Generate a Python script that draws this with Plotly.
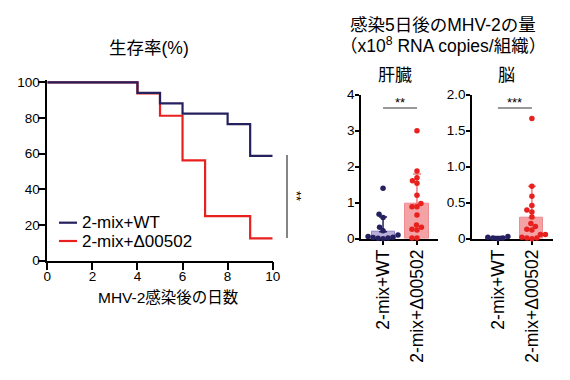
import plotly.graph_objects as go

# ---------------- data ----------------
days_wt = [0, 4, 5, 6, 8, 9, 10]
surv_wt = [100, 94.1, 88.2, 82.4, 76.5, 58.8, 58.8]
days_mut = [0, 4, 5, 6, 7, 9, 10]
surv_mut = [100, 93.75, 81.25, 56.25, 25.0, 12.5, 12.5]

groups = ["2-mix+WT", "2-mix+Δ00502"]

liver_wt = [1.40, 0.68, 0.59, 0.32, 0.22, 0.10, 0.06, 0.04, 0.03, 0.02, 0.01, 0.0]
liver_mut = [3.00, 1.88, 1.69, 1.61, 1.54, 1.21, 0.98, 0.89, 0.89, 0.66, 0.38, 0.32, 0.26, 0.24, 0.02, 0.02]
liver_mean = [0.19, 0.96]
liver_sd_top = [0.60, 1.80]

brain_wt = [0.03, 0.02, 0.01, 0.01, 0.0]
brain_mut = [1.67, 0.73, 0.59, 0.46, 0.40, 0.37, 0.30, 0.21, 0.17, 0.13, 0.12, 0.06, 0.06, 0.02, 0.01, 0.01, 0.0]
brain_mean = [0.01, 0.29]
brain_sd_top = [0.03, 0.73]

NAVY = "#25205e"
RED = "#e8211e"
WT_FILL = "#b9afd8"
WT_EDGE = "#8e84c2"
MUT_FILL = "#f3a2a5"
MUT_EDGE = "#ee8c90"
FONT = "Liberation Sans, Arial, Noto Sans CJK JP, sans-serif"
OFF = 8  # page body margin
W, H = 570 - OFF, 380 - OFF


def px(xp):
    return (xp - OFF) / W


def py(yp):
    return 1 - (yp - OFF) / H


def swarm(vals, px_per_y, px_per_x, d=5.0):
    order = sorted(range(len(vals)), key=lambda i: vals[i])
    placed = []
    offs = [0.0] * len(vals)
    for i in order:
        y = vals[i] * px_per_y
        found = None
        k = 0
        while found is None:
            for sgn in ([0] if k == 0 else [-1, 1]):
                x = sgn * k * 0.5
                if all((x - a) ** 2 + (y - b) ** 2 >= d * d for a, b in placed):
                    found = x
                    break
            k += 1
        placed.append((found, y))
        offs[i] = found / px_per_x
    return offs


fig = go.Figure()

# ---------------- survival ----------------
fig.add_trace(go.Scatter(x=days_mut, y=surv_mut, mode="lines", line=dict(color=RED, width=2.2, shape="hv"),
                         xaxis="x", yaxis="y", showlegend=False, name=groups[1]))
fig.add_trace(go.Scatter(x=days_wt, y=surv_wt, mode="lines", line=dict(color=NAVY, width=2.2, shape="hv"),
                         xaxis="x", yaxis="y", showlegend=False, name=groups[0]))

# ---------------- bar panels ----------------
panels = [
    ("x2", "y2", liver_wt, liver_mut, liver_mean, liver_sd_top, 36.0),
    ("x3", "y3", brain_wt, brain_mut, brain_mean, brain_sd_top, 72.0),
]
XPX = 34.0
for xa, ya, wt, mut, mean, top, ppy in panels:
    for gi, (vals, fill, edge, col, ecol) in enumerate([
        (wt, WT_FILL, WT_EDGE, NAVY, NAVY),
        (mut, MUT_FILL, MUT_EDGE, RED, "#f07c80"),
    ]):
        fig.add_trace(go.Bar(x=[gi], y=[mean[gi]], width=0.68, xaxis=xa, yaxis=ya,
                             marker=dict(color=fill, line=dict(color=edge, width=1)),
                             error_y=dict(type="data", symmetric=False, array=[top[gi] - mean[gi]],
                                          arrayminus=[0], color=ecol, thickness=1.5, width=4),
                             showlegend=False))
        offs = swarm(vals, ppy, XPX, d=5.0)
        fig.add_trace(go.Scatter(x=[gi + o for o in offs], y=vals, mode="markers", xaxis=xa, yaxis=ya,
                                 marker=dict(color=col, size=5.5), cliponaxis=False, showlegend=False))

axis_common = dict(showline=True, linecolor="black", linewidth=1.5, ticks="outside", tickcolor="black",
                   tickwidth=1.5, showgrid=False, zeroline=False, automargin=False,
                   tickfont=dict(size=13.5, color="black"))
cat_axis = {**axis_common, "tickfont": dict(size=17.5, color="black")}

fig.update_layout(
    width=W, height=H, margin=dict(l=0, r=0, t=0, b=0, autoexpand=False),
    paper_bgcolor="white", plot_bgcolor="rgba(0,0,0,0)",
    font=dict(family=FONT, color="black"),
    bargap=0,
    xaxis=dict(domain=[px(47.3), px(272.7)], range=[0, 10], tickvals=[0, 2, 4, 6, 8, 10], ticklen=8,
               ticklabelstandoff=-6, anchor="y", **axis_common),
    yaxis=dict(domain=[py(260.7), py(79.6)], range=[0, 101.5], tickvals=[0, 20, 40, 60, 80, 100], ticklen=8,
               ticklabelstandoff=-5, anchor="x", **axis_common),
    xaxis2=dict(domain=[px(361), px(438)], range=[-0.65, 1.62], tickvals=[0, 1], ticktext=groups,
                tickangle=-90, ticklen=5, ticklabelstandoff=-3, anchor="y2", layer="below traces", **cat_axis),
    yaxis2=dict(domain=[py(238.7), py(94.7)], range=[0, 4], tickvals=[0, 1, 2, 3, 4], ticklen=4,
                ticklabelstandoff=-2, anchor="x2", **axis_common),
    xaxis3=dict(domain=[px(472), px(553)], range=[-0.76, 1.62], tickvals=[0, 1], ticktext=groups,
                tickangle=-90, ticklen=5, ticklabelstandoff=-3, anchor="y3", layer="below traces", **cat_axis),
    yaxis3=dict(domain=[py(238.7), py(94.7)], range=[0, 2], tickvals=[0, 0.5, 1.0, 1.5, 2.0],
                ticktext=["0", "0.5", "1.0", "1.5", "2.0"], ticklen=4, ticklabelstandoff=-2,
                anchor="x3", **axis_common),
)


def label(text, x, y, size, xanchor="center", **kw):
    return dict(text=text, x=px(x), y=py(y), xref="paper", yref="paper", showarrow=False,
                xanchor=xanchor, yanchor="middle", font=dict(size=size), **kw)


ann = [
    label("生存率(%)", 149, 48, 17.5),
    label("MHV-2感染後の日数", 168, 297, 15.5),
    label("感染5日後のMHV-2の量", 443, 25, 17.5),
    label("（x10<sup>8</sup> RNA copies/組織）", 443, 45, 17.5),
    label("肝臓", 395, 75, 17),
    label("脳", 506, 75, 17),
]
# legend (manual)
for yy, name, col in [(222.7, groups[0], NAVY), (241, groups[1], RED)]:
    fig.add_shape(type="line", x0=px(59), x1=px(77), y0=py(yy), y1=py(yy), xref="paper", yref="paper",
                  line=dict(color=col, width=2.2))
    ann.append(label(name, 80, yy, 17, xanchor="left"))
# significance
fig.add_shape(type="line", x0=px(287), x1=px(287), y0=py(155), y1=py(238), xref="paper", yref="paper",
              line=dict(color="#333333", width=1.2))
ann.append(label("**", 297, 196, 13, textangle=90))
for xa, stars in [("x2", "**"), ("x3", "***")]:
    fig.add_shape(type="line", x0=0, x1=1, y0=py(108), y1=py(108), xref=xa, yref="paper",
                  line=dict(color="#333333", width=1.2))
    ann.append(dict(text=stars, x=0.5, y=py(102), xref=xa, yref="paper", showarrow=False,
                    xanchor="center", yanchor="middle", font=dict(size=13)))
fig.update_layout(annotations=ann)

fig.write_html("out.html")
